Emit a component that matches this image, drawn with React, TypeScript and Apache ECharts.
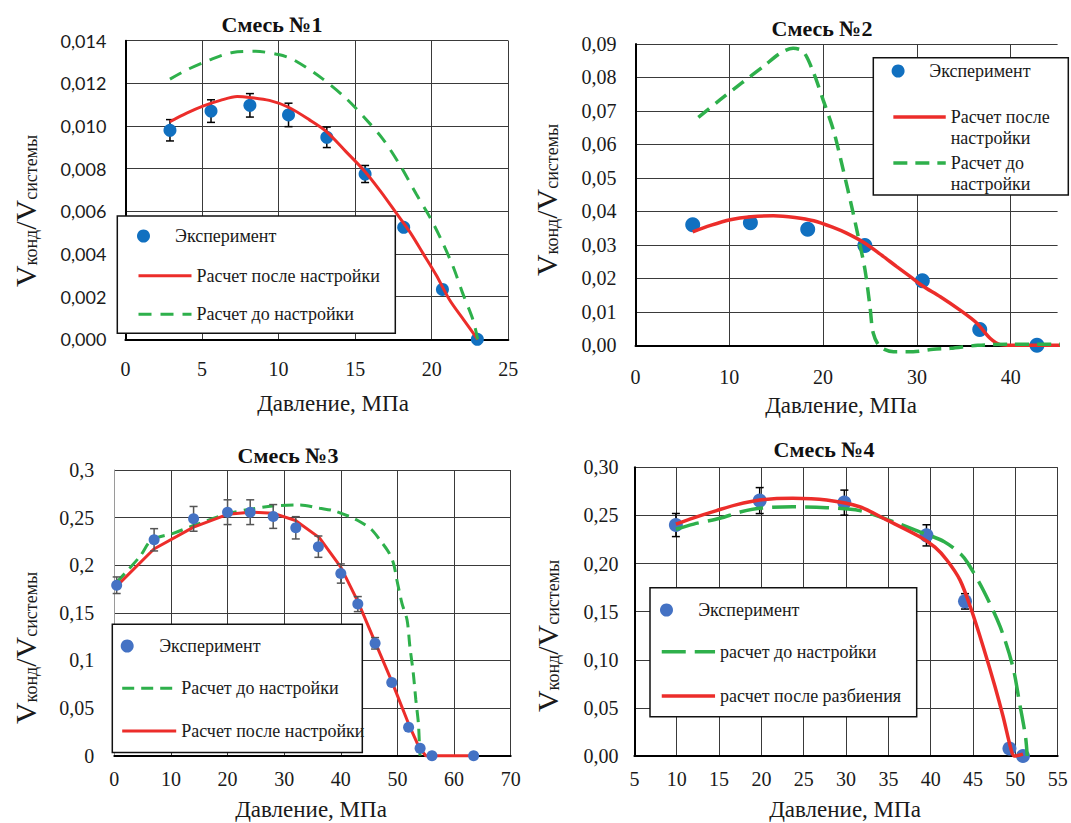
import React, { useEffect, useRef } from 'react';
import * as echarts from 'echarts';

// ---------- Panel 1: Смесь №1 ----------
const p1ExpX = [2.91, 5.59, 8.13, 10.65, 13.15, 15.65, 18.17, 20.7, 22.98];
const p1ExpY = [0.0098, 0.0107, 0.01097, 0.01052, 0.00947, 0.00775, 0.00525, 0.00234, 0];
const p1ExpErr = [0.0005, 0.00053, 0.00055, 0.00055, 0.00048, 0.0004, 0, 0, 0];
const p1AfterX = [2.91, 4, 5.1, 6.2, 7.3, 8.1, 9.4, 10.65, 12, 13.15, 14.4, 15.65, 16.7, 17.7, 18.6, 19.43, 20.3, 21.17, 22.1, 23];
const p1AfterY = [0.0102, 0.0106, 0.01094, 0.0112, 0.01138, 0.01134, 0.0112, 0.01088, 0.0103, 0.00973, 0.0088, 0.00786, 0.0069, 0.0059, 0.005, 0.00403, 0.003, 0.00184, 0.0009, 0];
const p1BeforeX = [2.91, 4, 5.5, 7, 8.5, 10, 11, 12.9, 14.4, 15.6, 16.8, 17.9, 19, 19.9, 20.6, 21.4, 22, 22.7, 23];
const p1BeforeY = [0.0122, 0.01263, 0.0131, 0.01345, 0.0135, 0.01335, 0.0131, 0.0122, 0.0113, 0.0104, 0.0094, 0.0082, 0.0068, 0.0057, 0.0047, 0.0034, 0.0022, 0.0009, 0];

// ---------- Panel 2: Смесь №2 ----------
const p2ExpX = [6.1, 12.25, 18.36, 24.45, 30.58, 36.7, 42.8];
const p2ExpY = [0.036, 0.0366, 0.0347, 0.0298, 0.0193, 0.0047, 0];
const p2AfterX = [6.1, 8, 10.1, 12.3, 14.7, 17, 19, 21, 22.5, 24.47, 26.2, 27.85, 29.3, 30.58, 32.5, 34.6, 36.4, 37.8, 38.9, 40, 46.4];
const p2AfterY = [0.0339, 0.0358, 0.0375, 0.0384, 0.0387, 0.0382, 0.0372, 0.0353, 0.0335, 0.0305, 0.027, 0.0235, 0.0205, 0.0178, 0.0145, 0.0105, 0.0066, 0.0021, 0.0002, 0, 0];
const p2BeforeX = [6.7, 9.0, 11.3, 13.6, 15.4, 16.8, 17.9, 19.0, 20.0, 21.1, 22.15, 23.05, 23.75, 24.47, 25.0, 25.35, 26.07, 27.5, 29.6, 31.75, 33.6, 36.5, 40.2, 46.4];
const p2BeforeY = [0.0681, 0.0733, 0.0783, 0.0832, 0.0872, 0.0887, 0.0877, 0.0813, 0.0733, 0.0643, 0.0523, 0.0414, 0.0324, 0.0225, 0.0115, 0.0036, -0.0004, -0.0019, -0.0019, -0.0012, -0.0009, 0, 0.0003, 0.0003];

// ---------- Panel 3: Смесь №3 ----------
const p3ExpX = [0.42, 7.03, 14.0, 20.0, 24.0, 28.06, 32.05, 36.04, 40.0, 43.0, 46.05, 49.0, 51.97, 54.0, 56.1, 63.45];
const p3ExpY = [0.179, 0.2267, 0.2487, 0.2557, 0.2557, 0.2512, 0.2393, 0.2195, 0.1913, 0.1592, 0.118, 0.0768, 0.0299, 0.0078, 0, 0];
const p3ExpErr = [0.0087, 0.0117, 0.013, 0.013, 0.013, 0.0125, 0.0117, 0.0112, 0.0101, 0.0079, 0.006, 0, 0, 0, 0, 0];
const p3AfterX = [0.42, 7, 14, 20, 24, 28, 32, 36.2, 40, 43, 46, 49, 52, 53.8, 55, 63.45];
const p3AfterY = [0.178, 0.217, 0.24, 0.2535, 0.2557, 0.2547, 0.247, 0.229, 0.198, 0.162, 0.12, 0.078, 0.033, 0.009, 0, 0];
const p3BeforeX = [0.4, 4.5, 6.6, 10.4, 14, 20, 24, 28, 32.8, 36.3, 38.7, 41.6, 43.4, 45.5, 46.9, 48.4, 49.3, 49.9, 50.8, 51.7, 52.2, 52.8, 53.25, 53.7, 53.9, 54];
const p3BeforeY = [0.182, 0.209, 0.2265, 0.2335, 0.2417, 0.254, 0.2588, 0.2623, 0.2633, 0.2598, 0.2573, 0.251, 0.2457, 0.237, 0.2265, 0.2142, 0.202, 0.1845, 0.16, 0.1425, 0.1145, 0.0865, 0.0585, 0.034, 0.0095, 0];

// ---------- Panel 4: Смесь №4 ----------
const p4ExpX = [9.9, 19.8, 29.8, 39.5, 44.05, 49.3, 50.9];
const p4ExpY = [0.24, 0.2654, 0.2633, 0.2293, 0.1607, 0.0078, 0];
const p4ExpErr = [0.012, 0.0135, 0.013, 0.011, 0.008, 0, 0];
const p4SplitX = [9.9, 12, 14.7, 17, 19.8, 23.7, 27.7, 31.6, 34.8, 38.7, 40.5, 41.9, 43.45, 44.8, 46.2, 47.6, 48.55, 49.55, 49.9, 50.9];
const p4SplitY = [0.241, 0.2475, 0.255, 0.261, 0.266, 0.2678, 0.266, 0.259, 0.2453, 0.2279, 0.217, 0.2037, 0.183, 0.152, 0.1136, 0.072, 0.041, 0.005, 0, 0.002];
const p4BeforeX = [9.9, 12, 15.1, 17.5, 19.8, 23.7, 27.7, 31.6, 35.6, 38.7, 41.6, 43.65, 44.4, 46.2, 48.2, 49.7, 50.5, 51.2, 51.4];
const p4BeforeY = [0.2356, 0.241, 0.247, 0.2535, 0.2574, 0.259, 0.258, 0.255, 0.2435, 0.233, 0.2227, 0.2089, 0.2003, 0.1725, 0.1344, 0.0928, 0.0548, 0.02, 0];

const titles = ['Смесь №1', 'Смесь №2', 'Смесь №3', 'Смесь №4'];
const xTitle = 'Давление, МПа';
const NAME_EXP = 'Эксперимент';
const NAME_AFTER = 'Расчет после настройки';
const NAME_BEFORE = 'Расчет до настройки';
const NAME_BEFORE4 = 'расчет до настройки';
const NAME_SPLIT4 = 'расчет после разбиения';

const SERIF = "'Liberation Serif', 'Times New Roman', serif";
const SANS = "Lato, 'Open Sans', sans-serif";
const TXT = '#1a1a1a';
const RED = '#EC2D2A';
const GREEN = '#2EB04B';
const BLUE1 = '#1170C0';
const BLUE2 = '#4472C4';

const pairs = (xs: number[], ys: number[]) => xs.map((x, i) => [x, ys[i]]);

function errSeries(idx: number, xs: number[], ys: number[], es: number[], color: string, z: number) {
  return {
    type: 'custom',
    name: 'погрешность',
    xAxisIndex: idx,
    yAxisIndex: idx,
    z,
    silent: true,
    encode: { x: 0, y: 1 },
    data: xs.map((x, i) => [x, ys[i], es[i]]).filter((d) => d[2] > 0),
    renderItem: (params: any, api: any) => {
      const x = api.value(0);
      const y = api.value(1);
      const e = api.value(2);
      const t = api.coord([x, y + e]);
      const b = api.coord([x, y - e]);
      const w = 4;
      const st = { stroke: color, lineWidth: 1.5 };
      return {
        type: 'group',
        children: [
          { type: 'line', shape: { x1: t[0], y1: t[1], x2: b[0], y2: b[1] }, style: st },
          { type: 'line', shape: { x1: t[0] - w, y1: t[1], x2: t[0] + w, y2: t[1] }, style: st },
          { type: 'line', shape: { x1: b[0] - w, y1: b[1], x2: b[0] + w, y2: b[1] }, style: st },
        ],
      };
    },
  };
}

function lineSeries(idx: number, name: string, xs: number[], ys: number[], color: string, width: number, type: any, z: number, smooth: any) {
  return {
    type: 'line',
    name,
    xAxisIndex: idx,
    yAxisIndex: idx,
    data: pairs(xs, ys),
    symbol: 'none',
    showSymbol: false,
    smooth,
    z,
    clip: false,
    lineStyle: { color, width, type },
    itemStyle: { color },
    emphasis: { disabled: true },
  };
}

function scatterSeries(idx: number, xs: number[], ys: number[], color: string, size: number, z: number) {
  return {
    type: 'scatter',
    name: NAME_EXP,
    xAxisIndex: idx,
    yAxisIndex: idx,
    data: pairs(xs, ys),
    symbol: 'circle',
    symbolSize: size,
    itemStyle: { color, opacity: 1 },
    z,
    clip: false,
    emphasis: { disabled: true },
  };
}

function xAxis(idx: number, min: number, max: number, interval: number, margin: number, extraLabel: any = {}, showMaxLine = true) {
  return {
    type: 'value',
    gridIndex: idx,
    min,
    max,
    interval,
    axisLine: { show: true, onZero: false, lineStyle: { color: '#000', width: 2 } },
    axisTick: { show: false },
    splitLine: { show: true, showMaxLine, lineStyle: { color: '#3a3a3a', width: 1 } },
    axisLabel: { margin, fontFamily: SERIF, fontSize: 20, color: TXT, ...extraLabel },
  };
}

function yAxis(idx: number, max: number, interval: number, margin: number, formatter: any, font: string, fontSize: number, lineColor = '#000', lineWidth = 2) {
  return {
    type: 'value',
    gridIndex: idx,
    min: 0,
    max,
    interval,
    axisLine: { show: true, onZero: false, lineStyle: { color: lineColor, width: lineWidth } },
    axisTick: { show: false },
    splitLine: { show: true, lineStyle: { color: '#3a3a3a', width: 1 } },
    axisLabel: { margin, fontFamily: font, fontSize, color: TXT, formatter },
  };
}

const LH = 21;
function legendItem(name: string, left: number, cy: number, iconW: number, dataExtra: any, lines = 1, formatter?: string) {
  const h = lines * LH;
  const o: any = {
    show: true,
    selectedMode: false,
    orient: 'horizontal',
    left,
    top: cy - h / 2,
    padding: 0,
    itemGap: 0,
    itemWidth: iconW,
    itemHeight: 13,
    z: 6,
    data: [{ name, ...dataExtra }],
    textStyle: { fontFamily: SERIF, fontSize: 18, color: TXT, lineHeight: LH },
  };
  if (formatter) o.formatter = formatter;
  return o;
}

const noSym = { opacity: 0, borderWidth: 0 };

function titleText(x: number, y: number, text: string) {
  return {
    type: 'text',
    x,
    y,
    z: 6,
    style: {
      text,
      font: `bold 22px ${SERIF}`,
      fill: '#111',
      align: 'center',
      verticalAlign: 'middle',
      textAlign: 'center',
      textVerticalAlign: 'middle',
    },
  };
}

function axisTitle(x: number, y: number) {
  return {
    type: 'text',
    x,
    y,
    z: 6,
    style: {
      text: xTitle,
      font: `23px ${SERIF}`,
      fill: TXT,
      align: 'center',
      verticalAlign: 'middle',
      textAlign: 'center',
      textVerticalAlign: 'middle',
    },
  };
}

function yTitle(x: number, y: number) {
  return {
    type: 'text',
    x,
    y,
    rotation: Math.PI / 2,
    z: 6,
    style: {
      text: '{v|V}{s|конд}{v|/V}{s|системы}',
      align: 'center',
      verticalAlign: 'middle',
      textAlign: 'center',
      textVerticalAlign: 'middle',
      fill: TXT,
      rich: {
        v: { fontFamily: SERIF, fontSize: 30, lineHeight: 30, verticalAlign: 'top', fill: TXT, color: TXT },
        s: { fontFamily: SERIF, fontSize: 18, lineHeight: 18, verticalAlign: 'bottom', padding: [13, 0, 0, 0], fill: TXT, color: TXT },
      },
    },
  };
}

function box(x: number, y: number, w: number, h: number) {
  return {
    type: 'rect',
    z: 4,
    shape: { x, y, width: w, height: h },
    style: { fill: '#fff', stroke: '#111', lineWidth: 1.5 },
  };
}

function buildOption(): any {
  const f3 = (v: number) => v.toFixed(3).replace('.', ',');
  const f2 = (v: number) => v.toFixed(2).replace('.', ',');
  const fg = (v: number) => String(parseFloat(v.toFixed(2))).replace('.', ',');

  const dash1 = [13, 9];
  const dash2 = [14, 8];
  const dash3 = [12, 7];
  const dash4 = [24, 9];

  return {
    animation: false,
    backgroundColor: '#fff',
    grid: [
      { left: 125.4, top: 40.7, width: 382.9, height: 298.6 },
      { left: 635.5, top: 44, width: 422.1, height: 301.3 },
      { left: 114.3, top: 470, width: 396.4, height: 285.7 },
      { left: 634.4, top: 467.3, width: 423.3, height: 288.7 },
    ],
    xAxis: [
      xAxis(0, 0, 25, 5, 20),
      xAxis(1, 0, 45, 10, 22, { showMaxLabel: false }, false),
      xAxis(2, 0, 70, 10, 13),
      xAxis(3, 5, 55, 5, 13),
    ],
    yAxis: [
      yAxis(0, 0.014, 0.002, 19, f3, SANS, 18),
      yAxis(1, 0.09, 0.01, 19, f2, SERIF, 20),
      yAxis(2, 0.3, 0.05, 20, fg, SERIF, 20, '#9a9a9a', 1),
      yAxis(3, 0.3, 0.05, 16, f2, SERIF, 20),
    ],
    legend: [
      // panel 1
      legendItem(NAME_EXP, 137, 236, 53, { icon: 'circle', itemStyle: { color: BLUE1 } }),
      legendItem(NAME_AFTER, 137, 275.7, 53, { itemStyle: noSym, lineStyle: { color: RED, width: 3, type: 'solid' } }),
      legendItem(NAME_BEFORE, 137, 314.3, 53, { itemStyle: noSym, lineStyle: { color: GREEN, width: 3, type: dash1 } }),
      // panel 2
      legendItem(NAME_EXP, 891.6, 71, 52.4, { icon: 'circle', itemStyle: { color: BLUE1 } }),
      legendItem(NAME_AFTER, 891.6, 117, 52.4, { itemStyle: noSym, lineStyle: { color: RED, width: 3.5, type: 'solid' } }, 3, '\nРасчет после\nнастройки'),
      legendItem(NAME_BEFORE, 891.6, 163, 52.4, { itemStyle: noSym, lineStyle: { color: GREEN, width: 3.5, type: dash2 } }, 3, '\nРасчет до\nнастройки'),
      // panel 3
      legendItem(NAME_EXP, 120.7, 646, 54, { icon: 'circle', itemStyle: { color: BLUE2 } }),
      legendItem(NAME_BEFORE, 120.7, 688.3, 54, { itemStyle: noSym, lineStyle: { color: GREEN, width: 3, type: dash3 } }),
      legendItem(NAME_AFTER, 120.7, 731, 54, { itemStyle: noSym, lineStyle: { color: RED, width: 3, type: 'solid' } }),
      // panel 4
      legendItem(NAME_EXP, 660, 610, 53.3, { icon: 'circle', itemStyle: { color: BLUE2 } }),
      legendItem(NAME_BEFORE4, 660, 651.7, 53.3, { itemStyle: noSym, lineStyle: { color: GREEN, width: 3.5, type: dash4 } }),
      legendItem(NAME_SPLIT4, 660, 696, 53.3, { itemStyle: noSym, lineStyle: { color: RED, width: 3.5, type: 'solid' } }),
    ],
    graphic: [
      box(117.3, 216, 278, 117.3),
      box(873.3, 57.7, 195, 137.3),
      box(112.3, 624.3, 250, 128.2),
      box(650, 587.7, 266.7, 129),
      titleText(272, 24, titles[0]),
      titleText(822, 28, titles[1]),
      titleText(288, 455, titles[2]),
      titleText(824, 449, titles[3]),
      axisTitle(333, 403),
      axisTitle(841, 405),
      axisTitle(311, 809),
      axisTitle(845, 809),
      yTitle(25, 211),
      yTitle(546, 200),
      yTitle(25, 648),
      yTitle(547, 636),
    ],
    series: [
      // panel 1
      errSeries(0, p1ExpX, p1ExpY, p1ExpErr, '#000', 1),
      scatterSeries(0, p1ExpX, p1ExpY, BLUE1, 13, 2),
      lineSeries(0, NAME_AFTER, p1AfterX, p1AfterY, RED, 3, 'solid', 3, 0.3),
      lineSeries(0, NAME_BEFORE, p1BeforeX, p1BeforeY, GREEN, 3, dash1, 3, 0.3),
      // panel 2
      scatterSeries(1, p2ExpX, p2ExpY, BLUE1, 15, 2),
      lineSeries(1, NAME_AFTER, p2AfterX, p2AfterY, RED, 3.5, 'solid', 3, 0.3),
      lineSeries(1, NAME_BEFORE, p2BeforeX, p2BeforeY, GREEN, 3.5, dash2, 3, 0.3),
      // panel 3
      lineSeries(2, NAME_BEFORE, p3BeforeX, p3BeforeY, GREEN, 3, dash3, 1, 0.3),
      lineSeries(2, NAME_AFTER, p3AfterX, p3AfterY, RED, 3, 'solid', 1, false),
      errSeries(2, p3ExpX, p3ExpY, p3ExpErr, '#555', 2),
      scatterSeries(2, p3ExpX, p3ExpY, BLUE2, 11, 3),
      // panel 4
      errSeries(3, p4ExpX, p4ExpY, p4ExpErr, '#000', 1),
      scatterSeries(3, p4ExpX, p4ExpY, BLUE2, 14, 2),
      lineSeries(3, NAME_BEFORE4, p4BeforeX, p4BeforeY, GREEN, 3.5, dash4, 3, 0.3),
      lineSeries(3, NAME_SPLIT4, p4SplitX, p4SplitY, RED, 3.5, 'solid', 3, 0.3),
    ],
  };
}

export default function App() {
  const ref = useRef<HTMLDivElement>(null);
  useEffect(() => {
    if (!ref.current) return;
    const chart = echarts.init(ref.current, null, { renderer: 'svg' });
    chart.setOption(buildOption());
    return () => chart.dispose();
  }, []);
  return (
    <div
      ref={ref}
      style={{ position: 'absolute', left: 0, top: 0, width: 1071, height: 823, background: '#fff' }}
    />
  );
}
